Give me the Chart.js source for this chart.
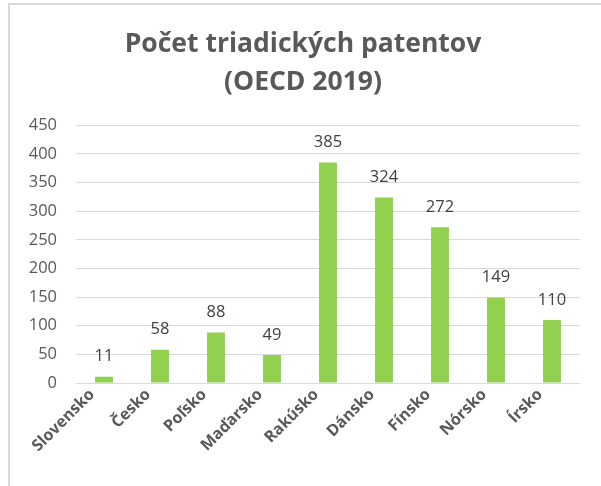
<!DOCTYPE html>
<html>
<head>
<meta charset="utf-8">
<script src="https://cdn.jsdelivr.net/npm/chart.js@4"></script>
<style>
  html, body { margin: 0; padding: 0; background: #fff; }
  #ram {
    position: absolute; left: 8px; top: 3px; width: 593px; height: 483px;
    border-left: 2px solid #d9d9d9; border-top: 2px solid #d9d9d9;
  }
  #graf { position: absolute; left: 0; top: 0; }
</style>
</head>
<body>
<div id="ram"></div>
<canvas id="graf" width="601" height="486"></canvas>
<script>
const krajiny = ['Slovensko', 'Česko', 'Poľsko', 'Maďarsko', 'Rakúsko', 'Dánsko', 'Fínsko', 'Nórsko', 'Írsko'];
const patenty = [11, 58, 88, 49, 385, 324, 272, 149, 110];
const nadpis = ['Počet triadických patentov', '(OECD 2019)'];

const FONT = '"Open Sans", sans-serif';

// popisky hodnot nad stlpcami
const popiskyHodnot = {
    id: 'popiskyHodnot',
    afterDatasetsDraw(chart) {
        const ctx = chart.ctx;
        const meta = chart.getDatasetMeta(0);
        ctx.save();
        ctx.font = '16.5px ' + FONT;
        ctx.fillStyle = '#404040';
        ctx.textAlign = 'center';
        ctx.textBaseline = 'middle';
        meta.data.forEach((bar, i) => {
            ctx.fillText(patenty[i], bar.x, bar.y - 20);
        });
        ctx.restore();
    }
};

// nazvy krajin pod osou, otocene o 45 stupnov
const popiskyOsi = {
    id: 'popiskyOsi',
    afterDraw(chart) {
        const ctx = chart.ctx;
        const x = chart.scales.x;
        const y0 = chart.chartArea.bottom;
        ctx.save();
        ctx.font = 'bold 16px ' + FONT;
        ctx.fillStyle = '#595959';
        ctx.textAlign = 'right';
        ctx.textBaseline = 'middle';
        krajiny.forEach((nazov, i) => {
            ctx.save();
            ctx.translate(x.getPixelForTick(i) - 12, y0 + 9);
            ctx.rotate(-Math.PI / 4);
            ctx.fillText(nazov, 0, 0);
            ctx.restore();
        });
        ctx.restore();
    }
};

new Chart(document.getElementById('graf'), {
    type: 'bar',
    data: {
        labels: krajiny,
        datasets: [{
            data: patenty,
            backgroundColor: '#92d050',
            barPercentage: 0.32,
            categoryPercentage: 1
        }]
    },
    options: {
        responsive: false,
        animation: false,
        layout: { padding: { left: 26, right: 21, top: 0, bottom: 0 } },
        plugins: {
            legend: { display: false },
            tooltip: { enabled: false },
            title: {
                display: true,
                text: nadpis,
                color: '#595959',
                font: { family: FONT, size: 26.5, weight: 'bold', lineHeight: 1.42 },
                padding: { top: 26, bottom: 24 }
            }
        },
        scales: {
            x: {
                grid: { display: false, drawTicks: false },
                border: { display: false },
                ticks: { display: false },
                afterFit(scale) { scale.height = 103; }
            },
            y: {
                min: 0,
                max: 450,
                grid: { color: '#d9d9d9', lineWidth: 1, drawTicks: false },
                border: { display: false },
                ticks: {
                    stepSize: 50,
                    color: '#595959',
                    font: { family: FONT, size: 16.5 },
                    padding: 19
                },
                afterFit(scale) { scale.width = 50; }
            }
        }
    },
    plugins: [popiskyHodnot, popiskyOsi]
});
</script>
</body>
</html>
